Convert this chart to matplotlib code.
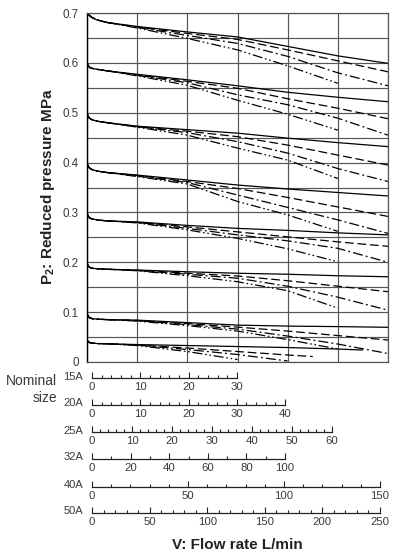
import numpy as np
import matplotlib
matplotlib.use("Agg")
import matplotlib.pyplot as plt

plt.rcParams['font.family'] = ['Liberation Sans', 'DejaVu Sans']
plt.rcParams['mathtext.fontset'] = 'custom'
plt.rcParams['mathtext.rm'] = 'Liberation Sans'
plt.rcParams['mathtext.bf'] = 'Liberation Sans:bold'

# ---------------- data ----------------
set_pressures = [0.7, 0.6, 0.5, 0.4, 0.3, 0.2, 0.1, 0.05]
y_ticks = [0, 0.1, 0.2, 0.3, 0.4, 0.5, 0.6, 0.7]
y_tick_labels = ["0", "0.1", "0.2", "0.3", "0.4", "0.5", "0.6", "0.7"]

# initial drop of each set pressure (shared by the four curves)
knee_x = [0, 0.02, 0.05, 0.1, 0.2, 0.4]
knee_p = [
    [0.700, 0.698, 0.695, 0.691, 0.686, 0.681],
    [0.600, 0.595, 0.591, 0.589, 0.587, 0.584],
    [0.499, 0.493, 0.489, 0.486, 0.483, 0.480],
    [0.399, 0.393, 0.389, 0.386, 0.383, 0.380],
    [0.299, 0.293, 0.289, 0.287, 0.285, 0.283],
    [0.199, 0.193, 0.190, 0.188, 0.187, 0.186],
    [0.098, 0.092, 0.089, 0.087, 0.086, 0.085],
    [0.045, 0.041, 0.039, 0.038, 0.037, 0.0365],
]

# flow (in grid units of the main chart) and pressure of each curve
solid_x = [[1, 2, 3, 4, 5, 6]] * 7 + [[1, 2, 3, 4, 5, 5.5]]
solid_p = [
    [0.673, 0.662, 0.652, 0.633, 0.614, 0.599],
    [0.577, 0.566, 0.554, 0.541, 0.531, 0.522],
    [0.473, 0.466, 0.459, 0.449, 0.440, 0.432],
    [0.375, 0.365, 0.355, 0.347, 0.340, 0.333],
    [0.281, 0.274, 0.268, 0.264, 0.259, 0.255],
    [0.1845, 0.181, 0.178, 0.176, 0.173, 0.171],
    [0.084, 0.079, 0.074, 0.072, 0.071, 0.0696],
    [0.035, 0.033, 0.031, 0.029, 0.026, 0.024],
]
dashed_x = [[1, 2, 3, 4, 5, 6]] * 7 + [[1, 2, 3, 4, 4.5]]
dashed_p = [
    [0.672, 0.659, 0.647, 0.626, 0.604, 0.582],
    [0.576, 0.563, 0.549, 0.528, 0.509, 0.488],
    [0.472, 0.463, 0.452, 0.435, 0.415, 0.395],
    [0.374, 0.362, 0.348, 0.330, 0.311, 0.292],
    [0.280, 0.271, 0.261, 0.251, 0.241, 0.232],
    [0.184, 0.178, 0.1725, 0.163, 0.152, 0.141],
    [0.083, 0.077, 0.070, 0.062, 0.053, 0.044],
    [0.034, 0.028, 0.021, 0.014, 0.011],
]
dashdot_x = [[1, 2, 3, 4, 5, 6]] * 7 + [[1, 2, 3, 4]]
dashdot_p = [
    [0.671, 0.655, 0.639, 0.613, 0.580, 0.554],
    [0.575, 0.560, 0.536, 0.516, 0.489, 0.455],
    [0.472, 0.460, 0.442, 0.419, 0.388, 0.362],
    [0.373, 0.360, 0.335, 0.310, 0.285, 0.258],
    [0.280, 0.268, 0.255, 0.243, 0.228, 0.200],
    [0.1835, 0.176, 0.168, 0.152, 0.130, 0.104],
    [0.083, 0.075, 0.066, 0.052, 0.036, 0.017],
    [0.034, 0.025, 0.015, 0.002],
]
dashdotdot_x = [[1, 2, 3, 4, 5]] * 7 + [[1, 2, 3]]
dashdotdot_p = [
    [0.670, 0.649, 0.626, 0.594, 0.559],
    [0.574, 0.555, 0.525, 0.497, 0.465],
    [0.471, 0.455, 0.429, 0.405, 0.368],
    [0.372, 0.357, 0.322, 0.295, 0.262],
    [0.279, 0.265, 0.248, 0.227, 0.201],
    [0.183, 0.173, 0.161, 0.143, 0.108],
    [0.082, 0.073, 0.062, 0.045, 0.026],
    [0.033, 0.021, 0.005],
]

# nominal-size flow scales
sizes = ["15A", "20A", "25A", "32A", "40A", "50A"]
size_max = [30, 40, 60, 100, 150, 250]
size_major = [10, 10, 10, 20, 50, 50]
size_minor = [2, 2, 2, 10, 10, 10]

# ---------------- layout helpers ----------------
W, H = 395, 553
fig = plt.figure(figsize=(W / 100, H / 100), dpi=100)


def fx(px):
    return px / W


def fy(py):
    return 1 - py / H


TXT = "#3a3a3a"
GRID = "#555555"

ax = fig.add_axes([fx(87), fy(362), fx(388) - fx(87), fy(13) - fy(362)])
ax.set_xlim(0, 6)
ax.set_ylim(0, 0.7)
ax.set_xticks(range(7))
ax.set_xticklabels([])
ax.set_yticks(y_ticks)
ax.set_yticklabels(y_tick_labels, color=TXT, fontsize=8.4)
ax.set_yticks(np.array(y_ticks[:-1]) + 0.05, minor=True)
ax.tick_params(axis='both', which='both', length=0, pad=6)
ax.grid(True, which='both', color=GRID, linewidth=0.85)
ax.set_axisbelow(True)
for s in ['top', 'right', 'bottom']:
    ax.spines[s].set_color(GRID)
    ax.spines[s].set_linewidth(0.9)
ax.spines['left'].set_color('black')
ax.spines['left'].set_linewidth(1.0)

styles = [
    (solid_x, solid_p, '-'),
    (dashed_x, dashed_p, (0, (7, 3))),
    (dashdot_x, dashdot_p, (0, (8, 2.5, 1.5, 2.5))),
    (dashdotdot_x, dashdotdot_p, (0, (8, 2.2, 1.3, 2.2, 1.3, 2.2))),
]
for xs_all, ps_all, ls in styles:
    for g in range(len(set_pressures)):
        xs = list(knee_x) + list(xs_all[g])
        ps = list(knee_p[g]) + list(ps_all[g])
        ax.plot(xs, ps, color='black', linewidth=0.9, linestyle=ls,
                solid_capstyle='butt', dash_capstyle='butt')

# flow scales
spine_y = [378, 405, 432, 459, 486.5, 513]
end_px = [237, 285, 332, 285, 380, 380]
for i, name in enumerate(sizes):
    sax = fig.add_axes([fx(92), fy(spine_y[i]), fx(end_px[i]) - fx(92), 0.004])
    sax.set_xlim(0, size_max[i])
    sax.set_ylim(0, 1)
    sax.set_yticks([])
    for s in ['top', 'left', 'right']:
        sax.spines[s].set_visible(False)
    sax.spines['bottom'].set_linewidth(0.9)
    sax.spines['bottom'].set_color('#222222')
    sax.set_xticks(np.arange(0, size_max[i] + 0.1, size_major[i]))
    sax.set_xticks(np.arange(0, size_max[i] + 0.1, size_minor[i]), minor=True)
    sax.set_xticklabels([str(int(v)) for v in np.arange(0, size_max[i] + 0.1, size_major[i])],
                        fontsize=8.2, color=TXT)
    sax.tick_params(axis='x', which='major', direction='in', length=4.2, width=0.8,
                    pad=3.0, color='#222222')
    sax.tick_params(axis='x', which='minor', direction='in', length=2.0, width=0.8,
                    color='#222222')
    sax.patch.set_visible(False)
    fig.text(fx(83), fy(spine_y[i] - 1.5), name, ha='right', va='center',
             fontsize=8.0, color=TXT)

fig.text(fx(57), fy(381), "Nominal", ha='right', va='center', fontsize=10, color=TXT)
fig.text(fx(57), fy(398), "size", ha='right', va='center', fontsize=10, color=TXT)

fig.text(fx(48), fy(187), r"P$_\mathbf{2}$: Reduced pressure MPa", rotation=90,
         ha='center', va='center', fontsize=11, fontweight='bold', color='#222222')
fig.text(fx(237), fy(545), "V: Flow rate L/min", ha='center', va='center',
         fontsize=11, fontweight='bold', color='#222222')

fig.savefig("out.png", dpi=100)
